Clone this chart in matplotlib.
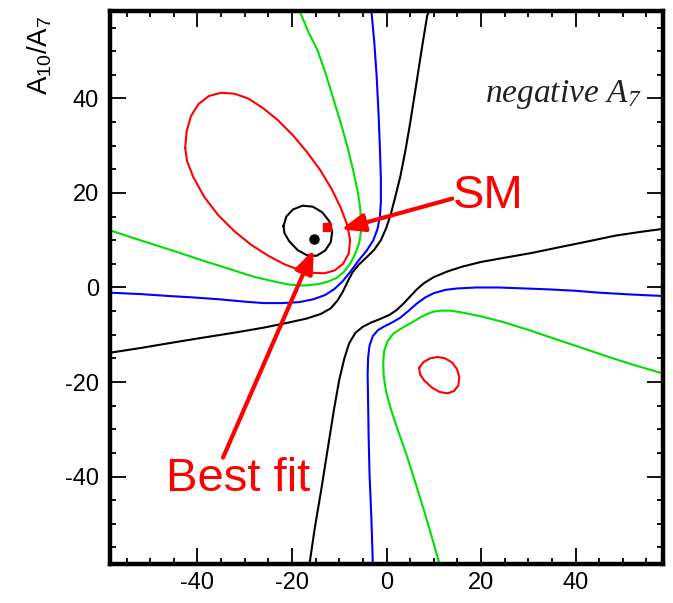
import matplotlib
matplotlib.use("Agg")
import matplotlib.pyplot as plt
from matplotlib.ticker import MultipleLocator

# ---- data ----
red_big_x = [-42.6, -42.3, -41.4, -39.8, -37.6, -35.0, -32.2, -29.3, -26.2, -23.0, -19.8, -16.8, -14.0, -11.6, -9.7, -8.3, -7.7, -8.0, -9.2, -11.0, -13.2, -15.6, -18.4, -21.6, -25.0, -28.6, -32.2, -35.6, -38.6, -40.9, -42.2, -42.6]
red_big_y = [29.5, 33.0, 36.2, 38.8, 40.5, 41.2, 41.0, 40.0, 38.0, 35.4, 32.2, 28.6, 24.8, 20.8, 16.9, 13.2, 10.0, 7.2, 5.0, 3.6, 3.0, 3.1, 3.7, 4.9, 6.7, 9.0, 11.9, 15.3, 19.2, 23.4, 26.7, 29.5]

red_small_x = [6.9, 7.8, 9.2, 10.8, 12.4, 13.9, 14.9, 15.4, 15.2, 14.3, 12.9, 11.2, 9.5, 8.0, 7.1, 6.9]
red_small_y = [-17.0, -15.8, -15.0, -14.7, -15.0, -15.9, -17.3, -19.0, -20.7, -21.9, -22.4, -22.1, -21.1, -19.7, -18.4, -17.0]

black_loop_x = [-21.8, -21.2, -19.8, -17.8, -15.6, -13.6, -12.1, -11.5, -11.8, -13.0, -14.8, -16.8, -18.8, -20.6, -21.6, -21.8]
black_loop_y = [13.0, 15.0, 16.5, 17.3, 17.1, 15.9, 14.0, 11.8, 9.6, 7.8, 6.7, 6.8, 7.9, 9.8, 11.5, 13.0]

green_ul_x = [-18.4, -16.5, -14.6, -12.8, -11.1, -9.6, -8.2, -7.0, -6.1, -5.6, -5.4, -5.4, -5.8, -6.6, -7.7, -9.0, -10.6, -12.5, -14.5, -17.5, -20.5, -23.5, -28.2, -33.5, -38.9, -44.0, -49.6, -54.0, -58.5]
green_ul_y = [58.5, 54.0, 50.2, 45.0, 39.4, 34.5, 29.5, 24.5, 20.3, 17.0, 14.2, 11.8, 9.4, 7.2, 5.0, 3.3, 2.0, 1.2, 0.7, 0.4, 0.6, 1.2, 2.3, 4.0, 5.7, 7.4, 9.2, 10.6, 12.1]

green_lr_x = [11.2, 9.5, 7.9, 6.1, 4.3, 2.5, 0.9, -0.1, -0.6, -0.7, -0.5, 0.2, 1.4, 2.9, 4.3, 5.7, 7.2, 8.6, 10.0, 11.6, 13.5, 15.5, 20.0, 25.0, 30.7, 36.0, 41.4, 47.0, 52.0, 58.5]
green_lr_y = [-58.5, -52.5, -47.1, -41.3, -35.6, -30.5, -25.7, -22.0, -18.8, -15.8, -13.4, -11.4, -9.8, -8.8, -8.0, -7.2, -6.3, -5.6, -5.1, -4.9, -4.9, -5.2, -6.1, -7.4, -9.2, -11.0, -12.8, -14.7, -16.3, -18.2]

blue_ul_x = [-3.2, -2.6, -2.1, -1.7, -1.4, -1.2, -1.2, -1.4, -1.9, -2.8, -4.2, -6.0, -7.6, -9.3, -11.0, -13.0, -15.5, -18.5, -22.0, -26.0, -30.0, -35.4, -41.0, -46.1, -52.0, -58.5]
blue_ul_y = [58.5, 52.0, 44.8, 37.0, 29.5, 23.0, 18.0, 15.0, 12.4, 10.0, 7.8, 5.6, 3.4, 1.3, -0.3, -1.6, -2.5, -3.1, -3.3, -3.3, -3.0, -2.5, -2.1, -1.8, -1.4, -1.1]

blue_lr_x = [-2.9, -3.2, -3.6, -3.8, -3.9, -4.0, -3.9, -3.6, -2.9, -1.8, -0.4, 1.2, 2.9, 4.7, 6.4, 8.2, 10.0, 12.5, 15.0, 19.0, 23.6, 29.0, 34.3, 40.0, 45.0, 52.0, 58.5]
blue_lr_y = [-58.5, -49.0, -39.4, -31.0, -24.1, -18.5, -14.9, -12.3, -10.3, -9.0, -8.2, -7.4, -6.4, -4.9, -3.4, -2.1, -1.2, -0.5, -0.2, 0.0, 0.0, -0.2, -0.4, -0.7, -1.1, -1.5, -1.8]

black_ul_x = [-58.5, -52.0, -46.1, -40.0, -31.8, -26.0, -21.1, -17.0, -13.9, -11.8, -10.4, -9.2, -8.2, -7.2, -5.8, -4.2, -2.6, -1.2, -0.1, 0.9, 1.8, 2.9, 4.0, 5.0, 5.9, 6.8, 7.7, 8.6, 9.0]
black_ul_y = [-13.8, -12.8, -11.8, -10.8, -9.5, -8.5, -7.5, -6.6, -5.6, -4.4, -2.8, -0.8, 1.3, 3.2, 4.9, 6.4, 8.0, 10.0, 12.5, 15.5, 19.0, 23.4, 29.0, 34.8, 40.5, 46.3, 52.0, 57.5, 58.5]

black_lr_x = [-16.3, -15.2, -13.9, -12.5, -11.1, -10.0, -8.9, -7.9, -6.6, -5.0, -3.2, -1.2, 0.6, 2.1, 3.6, 5.0, 6.4, 7.9, 10.0, 12.9, 16.0, 20.0, 25.0, 30.7, 36.0, 41.4, 48.6, 54.0, 58.5]
black_lr_y = [-58.5, -51.0, -43.3, -34.5, -25.7, -19.5, -14.9, -11.8, -9.6, -8.3, -7.4, -6.6, -5.8, -4.8, -3.4, -1.9, -0.4, 0.9, 2.2, 3.4, 4.4, 5.4, 6.3, 7.3, 8.4, 9.5, 11.0, 11.8, 12.4]

best_fit = (-15.4, 10.3)
sm_point = (-12.5, 12.8)

sm_arrow_from = (13.9, 18.8)
sm_arrow_to = (-9.6, 12.3)
bf_arrow_from = (-34.6, -36.0)
bf_arrow_to = (-15.4, 8.0)

xticks = [-40, -20, 0, 20, 40]
yticks = [-40, -20, 0, 20, 40]

# ---- figure ----
plt.rcParams['font.family'] = ['Liberation Sans', 'DejaVu Sans']
plt.rcParams['mathtext.default'] = 'regular'
fig = plt.figure(figsize=(6.73, 6.03), dpi=100)
ax = fig.add_axes([0.1635, 0.0647, 0.8217, 0.9171])

lw = 1.5
ax.plot(green_ul_x, green_ul_y, color='#00e000', lw=lw)
ax.plot(green_lr_x, green_lr_y, color='#00e000', lw=lw)
ax.plot(blue_ul_x, blue_ul_y, color='#0000ff', lw=lw)
ax.plot(blue_lr_x, blue_lr_y, color='#0000ff', lw=lw)
ax.plot(black_ul_x, black_ul_y, color='black', lw=lw)
ax.plot(black_lr_x, black_lr_y, color='black', lw=lw)
ax.plot(red_big_x, red_big_y, color='#ff0000', lw=lw)
ax.plot(red_small_x, red_small_y, color='#ff0000', lw=lw)
ax.plot(black_loop_x, black_loop_y, color='black', lw=lw)

ax.plot([best_fit[0]], [best_fit[1]], 'o', color='black', ms=6.5)
ax.plot([sm_point[0]], [sm_point[1]], 's', color='#ff0000', ms=6)

arrow_kw = dict(arrowstyle='-|>,head_length=1.4,head_width=0.55', color='#ff0000', lw=3,
                shrinkA=0, shrinkB=0)
ax.annotate('', xy=sm_arrow_to, xytext=sm_arrow_from, arrowprops=arrow_kw)
ax.annotate('', xy=bf_arrow_to, xytext=bf_arrow_from, arrowprops=arrow_kw)

ax.text(21.5, 19.4, 'SM', color='#ff0000', fontsize=34, ha='center', va='center')
ax.text(-31.5, -40.5, 'Best fit', color='#ff0000', fontsize=34, ha='center', va='center')
ax.text(53.9, 39.2, r'negative $A_7$', fontsize=24, ha='right', va='baseline',
        family=['Liberation Serif'], style='italic', color='#222222',
        math_fontfamily='stix')

ax.set_xlim(-58.5, 58.5)
ax.set_ylim(-58.5, 58.5)
ax.set_xticks(xticks)
ax.set_yticks(yticks)
ax.set_xticklabels([str(t) for t in xticks])
ax.set_yticklabels([str(t) for t in yticks])
ax.xaxis.set_minor_locator(MultipleLocator(5))
ax.yaxis.set_minor_locator(MultipleLocator(5))
ax.tick_params(which='both', direction='in', top=True, right=True, width=1.3, color='black')
ax.tick_params(which='major', length=11.5, labelsize=17, pad=8)
ax.tick_params(which='minor', length=4.5)
ax.tick_params(axis='x', which='major', pad=6)
for s in ax.spines.values():
    s.set_linewidth(3.2)

fig.text(0.059, 0.975, r'A$_{10}$/A$_{7}$', rotation=90, ha='center', va='top', fontsize=20)

fig.savefig('out.png', dpi=100)
